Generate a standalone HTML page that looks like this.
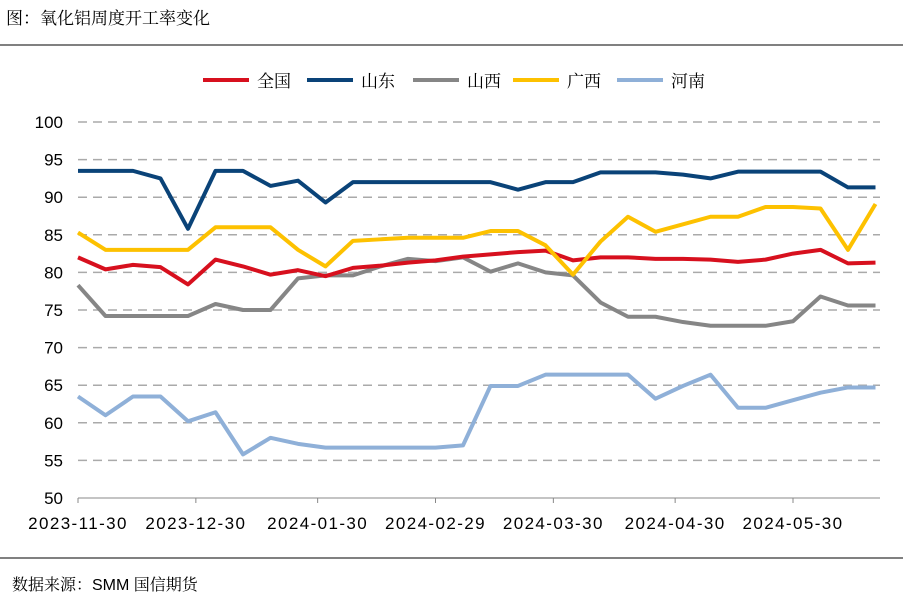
<!DOCTYPE html>
<html><head><meta charset="utf-8"><style>
body{margin:0;background:#fff;width:903px;height:599px;overflow:hidden;font-family:"Liberation Sans","Noto Serif CJK SC",serif}
</style></head><body>
<svg width="903" height="599" style="font-family:'Liberation Sans','Noto Serif CJK SC',serif">
<text x="6" y="24" font-size="17" fill="#000">图：氧化铝周度开工率变化</text>
<line x1="0" y1="45" x2="903" y2="45" stroke="#000" stroke-width="1"/>
<line x1="0" y1="558" x2="903" y2="558" stroke="#000" stroke-width="1"/>
<text x="12" y="590" font-size="16" fill="#000">数据来源：SMM 国信期货</text>
<g id="grid"></g><g id="axes"></g><g id="lines"></g><g id="legend"></g>
</svg>
<script>
const categories=["2023-11-30","2023-12-07","2023-12-14","2023-12-21","2023-12-28","2024-01-04","2024-01-11","2024-01-18","2024-01-25","2024-02-01","2024-02-08","2024-02-15","2024-02-22","2024-02-29","2024-03-07","2024-03-14","2024-03-21","2024-03-28","2024-04-04","2024-04-11","2024-04-18","2024-04-25","2024-05-02","2024-05-09","2024-05-16","2024-05-23","2024-05-30","2024-06-06","2024-06-13","2024-06-20"];
const quanguo=[82,80.4,81,80.7,78.4,81.7,80.8,79.7,80.3,79.5,80.6,80.9,81.3,81.6,82.1,82.4,82.7,82.9,81.6,82,82,81.8,81.8,81.7,81.4,81.7,82.5,83,81.2,81.3];
const shandong=[93.5,93.5,93.5,92.5,85.8,93.5,93.5,91.5,92.2,89.3,92,92,92,92,92,92,91,92,92,93.3,93.3,93.3,93,92.5,93.4,93.4,93.4,93.4,91.3,91.3];
const shanxi=[78.3,74.2,74.2,74.2,74.2,75.8,75,75,79.2,79.6,79.6,80.8,81.8,81.5,82,80.1,81.2,80,79.6,76,74.1,74.1,73.4,72.9,72.9,72.9,73.5,76.8,75.6,75.6];
const guangxi=[85.3,83,83,83,83,86,86,86,83,80.8,84.2,84.4,84.6,84.6,84.6,85.5,85.5,83.6,79.7,84.1,87.4,85.4,86.4,87.4,87.4,88.7,88.7,88.5,83,89.1];
const henan=[63.5,61,63.5,63.5,60.2,61.4,55.8,58,57.2,56.7,56.7,56.7,56.7,56.7,57,64.9,64.9,66.4,66.4,66.4,66.4,63.2,64.9,66.4,62,62,63,64,64.7,64.7];
const seriesNames=["全国","山东","山西","广西","河南"];
const yTicks=[50,55,60,65,70,75,80,85,90,95,100];
const xTickLabels=["2023-11-30","2023-12-30","2024-01-30","2024-02-29","2024-03-30","2024-04-30","2024-05-30"];
const xTickDays=[0,30,61,91,121,152,182];

const NS="http://www.w3.org/2000/svg";
const x0=78,x1=875.5,yb=498,yt=122;
const X=i=>x0+i*(x1-x0)/(categories.length-1);
const XD=d=>x0+d*(x1-x0)/(7*(categories.length-1));
const Y=v=>yb-(v-50)*(yb-yt)/50;
function mk(tag,attrs,parent){const e=document.createElementNS(NS,tag);for(const k in attrs)e.setAttribute(k,attrs[k]);document.getElementById(parent).appendChild(e);return e;}
yTicks.forEach(v=>{
  if(v>50){const l=mk('line',{x1:78,x2:880,y1:Y(v),y2:Y(v),stroke:'#aaa','stroke-width':1.5,'stroke-dasharray':'9,6'},'grid');
  
  }
  const t=mk('text',{x:63,y:Y(v)+6,'text-anchor':'end','font-size':17,fill:'#000'},'axes');t.textContent=v;
  
  
});
const ax=mk('line',{x1:78,x2:880,y1:yb,y2:yb,stroke:'#888','stroke-width':1},'axes');


xTickLabels.forEach((s,i)=>{
  const x=XD(xTickDays[i]);
  const tk=mk('line',{x1:x,x2:x,y1:yb,y2:yb+5,stroke:'#888'},'axes');
  
  
  const t=mk('text',{x:x,y:yb+31,'text-anchor':'middle','font-size':17,'letter-spacing':'1.4',fill:'#000'},'axes');t.textContent=s;
  
  
});
const data=[quanguo,shandong,shanxi,guangxi,henan];
const colors=["#d7101e","#0a4378","#868686","#fdc100","#8fb0d8"];
const draw=[4,2,0,3,1];
draw.forEach(k=>{
  const p=mk('polyline',{points:data[k].map((v,i)=>X(i)+','+Y(v)).join(' '),fill:'none',stroke:colors[k],'stroke-width':4,'stroke-linejoin':'round'},'lines');
  
  
});
const lx=[203,307,413,513,617];
seriesNames.forEach((n,k)=>{
  const l=mk('line',{x1:lx[k],x2:lx[k]+46,y1:80,y2:80,stroke:colors[k],'stroke-width':4},'legend');
  
  
  const t=mk('text',{x:lx[k]+54,y:87,'font-size':17,fill:'#000'},'legend');t.textContent=n;
  
  
});
</script>
</body></html>
